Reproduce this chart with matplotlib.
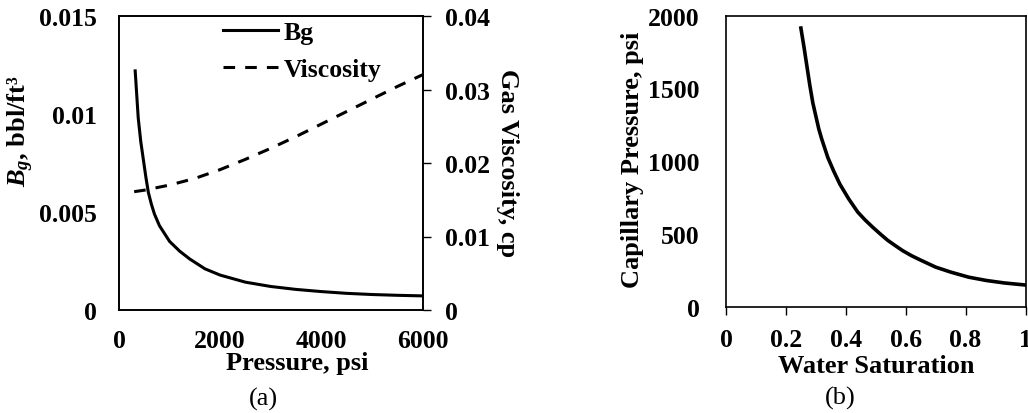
import matplotlib
matplotlib.use("Agg")
import matplotlib.pyplot as plt

# ---- data ----
pressure_bg = [320, 350, 380, 430, 480, 530, 580, 640, 700, 800, 1000, 1200,
               1400, 1700, 2000, 2500, 3000, 3500, 4000, 4500, 5000, 5500, 6000]
bg_values = [0.0122, 0.0110, 0.0098, 0.0086, 0.0077, 0.0068, 0.0060, 0.0054,
             0.0049, 0.0043, 0.0035, 0.0030, 0.0026, 0.0021, 0.00178, 0.00142,
             0.00120, 0.00105, 0.00094, 0.00085, 0.00079, 0.00075, 0.00072]

pressure_visc = [300, 500, 1000, 1500, 2000, 2500, 3000, 3500, 4000, 4500,
                 5000, 5500, 6000]
visc_values = [0.0161, 0.0163, 0.0170, 0.0179, 0.0191, 0.0205, 0.0220, 0.0236,
               0.0253, 0.0270, 0.0287, 0.0304, 0.0320]

sw_values = [0.25, 0.26, 0.27, 0.28, 0.29, 0.30, 0.31, 0.32, 0.34, 0.36, 0.38,
             0.41, 0.44, 0.465, 0.49, 0.515, 0.54, 0.565, 0.59, 0.62, 0.65,
             0.70, 0.75, 0.81, 0.87, 0.93, 1.00]
pc_values = [1915, 1790, 1655, 1520, 1400, 1310, 1220, 1150, 1025, 930, 843,
             740, 650, 595, 546, 500, 456, 420, 385, 350, 320, 272, 238, 203,
             180, 163, 149]

bg_ticks = [0, 0.005, 0.01, 0.015]
bg_ticklabels = ["0", "0.005", "0.01", "0.015"]
visc_ticks = [0, 0.01, 0.02, 0.03, 0.04]
visc_ticklabels = ["0", "0.01", "0.02", "0.03", "0.04"]
p_ticks = [0, 2000, 4000, 6000]
sw_ticks = [0, 0.2, 0.4, 0.6, 0.8, 1.0]
sw_ticklabels = ["0", "0.2", "0.4", "0.6", "0.8", "1"]
pc_ticks = [0, 500, 1000, 1500, 2000]

# ---- style ----
plt.rcParams["font.family"] = ["Liberation Serif", "DejaVu Serif"]
plt.rcParams["font.weight"] = "bold"
plt.rcParams["mathtext.fontset"] = "custom"
plt.rcParams["mathtext.rm"] = "Liberation Serif:bold"
plt.rcParams["mathtext.it"] = "Liberation Serif:italic:bold"
plt.rcParams["mathtext.bf"] = "Liberation Serif:bold"
TFS = 18.5   # tick labels
LFS = 19     # axis labels

W, H = 1028, 414
fig = plt.figure(figsize=(W / 100, H / 100), dpi=100)


def px_axes(left, top, right, bottom):
    return fig.add_axes([left / W, 1 - bottom / H, (right - left) / W, (bottom - top) / H])


# ---- panel (a) ----
ax1 = px_axes(119, 17, 422.5, 311)
l1, = ax1.plot(pressure_bg, bg_values, color="black", lw=2.2, label="Bg")
ax1.set_xlim(0, 6000)
ax1.set_ylim(0, 0.015)
ax1.set_yticks(bg_ticks)
ax1.set_yticklabels(bg_ticklabels)
ax1.set_xticks(p_ticks)
ax1.set_xticklabels([str(v) for v in p_ticks])
ax1.tick_params(axis="y", length=0, pad=16, labelsize=TFS)
ax1.tick_params(axis="x", length=0, pad=14, labelsize=TFS)

ax2 = ax1.twinx()
l2, = ax2.plot(pressure_visc, visc_values, color="black", lw=2.2,
               linestyle=(0, (3.8, 3.3)), label="Viscosity")
ax2.set_ylim(0, 0.04)
ax2.set_yticks(visc_ticks)
ax2.set_yticklabels(visc_ticklabels)
ax2.tick_params(axis="y", direction="out", length=6, width=1.0, pad=10, labelsize=TFS)

for ax in (ax1, ax2):
    for s in ax.spines.values():
        s.set_linewidth(1.2)

leg = ax1.legend(handles=[l1, l2], loc="upper left",
                 bbox_to_anchor=(223 / W, 1 - 22 / H), bbox_transform=fig.transFigure,
                 frameon=False, fontsize=TFS, handlelength=2.15, handletextpad=0.2,
                 labelspacing=0.55, borderpad=0, borderaxespad=0)

fig.text(21 / W, 1 - 131 / H, "$B_g$, bbl/ft³", rotation=90, ha="center", va="center",
         fontsize=LFS, fontweight="bold")
fig.text(508 / W, 1 - 163 / H, "Gas Viscosity, cp", rotation=270, ha="center",
         va="center", fontsize=LFS, fontweight="bold")
fig.text(297 / W, 1 - 370 / H, "Pressure, psi", ha="center", va="baseline",
         fontsize=LFS, fontweight="bold")
fig.text(263 / W, 1 - 399 / H, "(a)", ha="center", va="center", fontsize=LFS,
         fontweight="normal")

# ---- panel (b) ----
ax3 = px_axes(726, 16.7, 1025.5, 307.7)
ax3.plot(sw_values, pc_values, color="black", lw=2.6)
ax3.set_xlim(0, 1)
ax3.set_ylim(0, 2000)
ax3.set_xticks(sw_ticks)
ax3.set_xticklabels(sw_ticklabels)
ax3.set_yticks(pc_ticks)
ax3.set_yticklabels([str(v) for v in pc_ticks])
ax3.tick_params(axis="y", length=0, pad=19, labelsize=TFS)
ax3.tick_params(axis="x", direction="out", length=6, width=1.0, pad=9, labelsize=TFS)
for s in ax3.spines.values():
    s.set_linewidth(1.2)

fig.text(633 / W, 1 - 160 / H, "Capillary Pressure, psi", rotation=90, ha="center",
         va="center", fontsize=LFS, fontweight="bold")
fig.text(876 / W, 1 - 373 / H, "Water Saturation", ha="center", va="baseline",
         fontsize=LFS, fontweight="bold")
fig.text(840 / W, 1 - 398 / H, "(b)", ha="center", va="center", fontsize=LFS,
         fontweight="normal")

fig.savefig("out.png", dpi=100)
